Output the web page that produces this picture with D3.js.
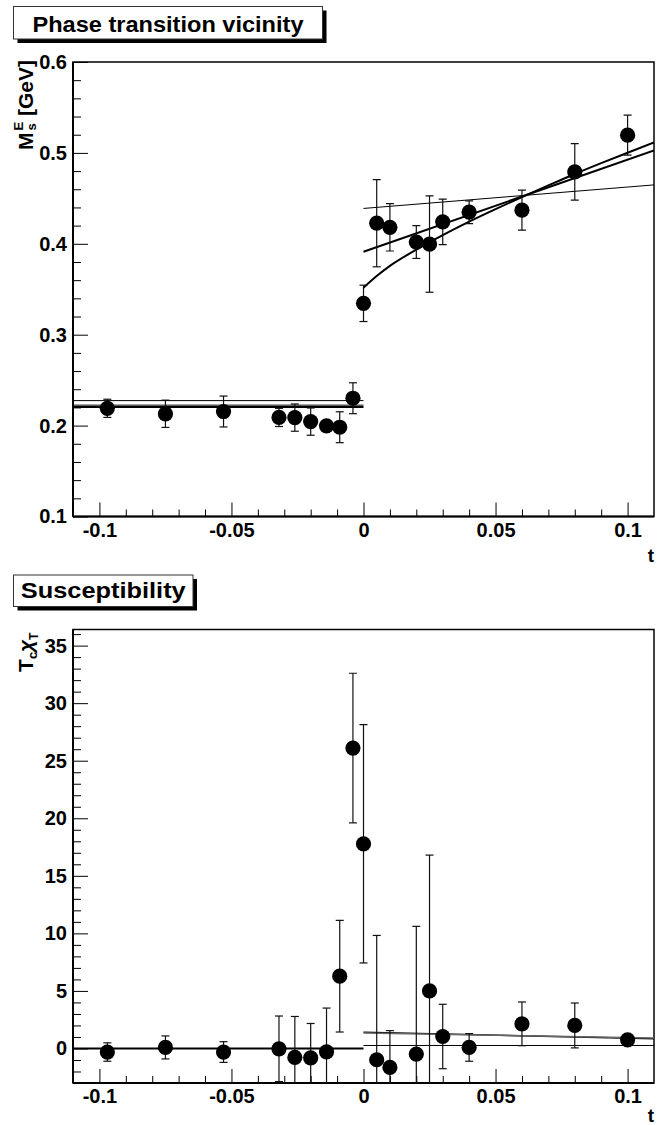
<!DOCTYPE html>
<html>
<head>
<meta charset="utf-8">
<script src="https://cdn.jsdelivr.net/npm/d3@7"></script>
<style>
  html, body { margin: 0; padding: 0; background: #fff; }
  svg { display: block; }
  text { font-family: "Liberation Sans", Arial, Helvetica, sans-serif; font-weight: bold; fill: #000; }
</style>
</head>
<body>
<script>
// ---------------- DATA ----------------
// Top panel: M_s^E [GeV] vs t
const tTop   = [-0.097, -0.075, -0.053, -0.032, -0.026, -0.020, -0.014, -0.009, -0.004,
                 0.000,  0.005,  0.010,  0.020,  0.025,  0.030,  0.040,  0.060,  0.080, 0.100];
const mTop   = [0.219, 0.213, 0.2155, 0.209, 0.2088, 0.2044, 0.1997, 0.1982, 0.2301,
                0.3345, 0.4227, 0.4181, 0.4019, 0.3997, 0.4242, 0.4348, 0.4370, 0.4791, 0.5195];
const eTop   = [0.010, 0.015, 0.017, 0.010, 0.015, 0.015, 0.005, 0.017, 0.017,
                0.020, 0.048, 0.026, 0.018, 0.053, 0.025, 0.0125, 0.022, 0.031, 0.022];

// Top panel fits
const topLowLevels = [0.2275, 0.2225, 0.2205];          // constant fits for t<0
const topLowRange  = [-0.11, 0.0];
const topLineA     = [[0.0, 0.4389], [0.11, 0.4648]];   // flat linear fit
const topLineB     = [[0.0, 0.3912], [0.11, 0.5026]];   // steeper linear fit
const topCurveT    = [0.0, 0.005, 0.01, 0.02, 0.03, 0.04, 0.05, 0.06, 0.07, 0.08, 0.09, 0.10, 0.11];
const topCurveM    = [0.3517, 0.3645, 0.3757, 0.3935, 0.4095, 0.4244, 0.4382, 0.4514, 0.4642, 0.4768, 0.4887, 0.5002, 0.5115];

// Bottom panel: Tc chi_T vs t
const tBot   = [-0.097, -0.075, -0.053, -0.032, -0.026, -0.020, -0.014, -0.009, -0.004,
                 0.000,  0.005,  0.010,  0.020,  0.025,  0.030,  0.040,  0.060,  0.080, 0.100];
const chiBot = [-0.31, 0.09, -0.31, -0.03, -0.78, -0.81, -0.29, 6.28, 26.1,
                17.78, -0.98, -1.65, -0.49, 5.0, 1.04, 0.09, 2.14, 2.0, 0.75];
const eBot   = [0.8, 1.0, 0.9, 2.85, 3.56, 2.98, 3.8, 4.85, 6.5,
                10.35, 10.8, 3.2, 11.1, 11.8, 2.8, 1.2, 1.9, 1.95, 0.3];

// Bottom panel fits
const botLowLevel  = 0.0;
const botLowRange  = [-0.11, 0.0];
const botHighLines = [
  [[0.0, 1.42], [0.11, 0.84]],
  [[0.0, 1.34], [0.11, 0.91]],
  [[0.0, 0.26], [0.11, 0.26]]
];

// Axes / ticks
const xDomain      = [-0.11, 0.11];
const xTickVals    = [-0.1, -0.05, 0, 0.05, 0.1];
const xTickLabels  = ["-0.1", "-0.05", "0", "0.05", "0.1"];
const topYDomain   = [0.1, 0.6];
const topYTickVals = [0.1, 0.2, 0.3, 0.4, 0.5, 0.6];
const topYTickLabels = ["0.1", "0.2", "0.3", "0.4", "0.5", "0.6"];
const botYDomain   = [-3, 36.4];
const botYTickVals = [0, 5, 10, 15, 20, 25, 30, 35];
const botYTickLabels = ["0", "5", "10", "15", "20", "25", "30", "35"];

const titleTop = "Phase transition vicinity";
const titleBot = "Susceptibility";

// ---------------- DRAW ----------------
const W = 664, H = 1125;
const svg = d3.select("body").append("svg").attr("width", W).attr("height", H);
svg.append("rect").attr("width", W).attr("height", H).attr("fill", "#fff");

const L = 73, R = 654;
const x = d3.scaleLinear().domain(xDomain).range([L, R]);

function titleBox(bx, by, bw, bh, text, baseline, tlen) {
  svg.append("rect").attr("x", bx + 4).attr("y", by + 4).attr("width", bw).attr("height", bh).attr("fill", "#000");
  svg.append("rect").attr("x", bx).attr("y", by).attr("width", bw).attr("height", bh)
    .attr("fill", "#fff").attr("stroke", "#333").attr("stroke-width", 1);
  svg.append("text").attr("x", bx + bw / 2).attr("y", baseline).attr("text-anchor", "middle")
    .attr("font-size", 22).attr("textLength", tlen).attr("lengthAdjust", "spacingAndGlyphs").text(text);
}

function panel(opts) {
  const { y0, y1, yDomain, yTicks, yLabels, yMinor, id, tOffset } = opts;
  const y = d3.scaleLinear().domain(yDomain).range([y1, y0]);
  const g = svg.append("g");

  svg.append("clipPath").attr("id", id).append("rect")
    .attr("x", L).attr("y", y0).attr("width", R - L).attr("height", y1 - y0);

  g.append("rect").attr("x", L).attr("y", y0).attr("width", R - L).attr("height", y1 - y0)
    .attr("fill", "none").attr("stroke", "#000").attr("stroke-width", 1.5);

  const yMaj = d3.axisLeft(y).tickValues(yTicks).tickFormat((d, i) => yLabels[i])
    .tickSizeInner(-15).tickSizeOuter(0).tickPadding(6);
  const ga = g.append("g").attr("transform", `translate(${L},0)`).call(yMaj);
  ga.select(".domain").remove();
  ga.selectAll("line").attr("stroke", "#000").attr("stroke-width", 1);
  ga.selectAll("text").attr("font-size", 20).attr("font-family", "Liberation Sans, Arial, sans-serif")
    .attr("font-weight", "bold").attr("fill", "#000");
  const yMin = d3.axisLeft(y).tickValues(yMinor).tickFormat("").tickSizeInner(-8).tickSizeOuter(0);
  const gm = g.append("g").attr("transform", `translate(${L},0)`).call(yMin);
  gm.select(".domain").remove();
  gm.selectAll("line").attr("stroke", "#000").attr("stroke-width", 1);

  const xMaj = d3.axisBottom(x).tickValues(xTickVals).tickFormat((d, i) => xTickLabels[i])
    .tickSizeInner(-14).tickSizeOuter(0).tickPadding(6);
  const gx = g.append("g").attr("transform", `translate(0,${y1})`).call(xMaj);
  gx.select(".domain").remove();
  gx.selectAll("line").attr("stroke", "#000").attr("stroke-width", 1);
  gx.selectAll("text").attr("font-size", 20).attr("font-family", "Liberation Sans, Arial, sans-serif")
    .attr("font-weight", "bold").attr("fill", "#000");
  const xMinorVals = d3.range(-10, 11).map(k => k / 100).filter(v => Math.abs(v * 20 - Math.round(v * 20)) > 1e-6);
  const xMin = d3.axisBottom(x).tickValues(xMinorVals).tickFormat("").tickSizeInner(-7).tickSizeOuter(0);
  const gxm = g.append("g").attr("transform", `translate(0,${y1})`).call(xMin);
  gxm.select(".domain").remove();
  gxm.selectAll("line").attr("stroke", "#000").attr("stroke-width", 1);

  g.append("line").attr("x1", L).attr("x2", L).attr("y1", y0).attr("y2", y1).attr("stroke", "#000").attr("stroke-width", 2);
  g.append("line").attr("x1", L).attr("x2", R).attr("y1", y1).attr("y2", y1).attr("stroke", "#000").attr("stroke-width", 2);

  g.append("text").attr("x", R).attr("y", y1 + tOffset).attr("text-anchor", "end").attr("font-size", 19).text("t");

  const plot = svg.append("g").attr("clip-path", `url(#${id})`);
  return { y, plot };
}

function drawPoints(plot, y, ts, vs, es) {
  const cap = 4;
  const eg = plot.append("g").attr("stroke", "#111").attr("stroke-width", 1.2);
  ts.forEach((t, i) => {
    const cx = x(t), yt = y(vs[i] + es[i]), yb = y(vs[i] - es[i]);
    eg.append("line").attr("x1", cx).attr("x2", cx).attr("y1", yt).attr("y2", yb);
    eg.append("line").attr("x1", cx - cap).attr("x2", cx + cap).attr("y1", yt).attr("y2", yt);
    eg.append("line").attr("x1", cx - cap).attr("x2", cx + cap).attr("y1", yb).attr("y2", yb);
  });
  plot.append("g").selectAll("circle").data(ts).join("circle")
    .attr("cx", d => x(d)).attr("cy", (d, i) => y(vs[i])).attr("r", 7.6).attr("fill", "#000");
}

// ---- Top panel ----
titleBox(13.5, 6.5, 309, 32.5, titleTop, 32, 271);
const pTop = panel({ y0: 62, y1: 516.5, yDomain: topYDomain, yTicks: topYTickVals, yLabels: topYTickLabels,
  yMinor: d3.range(10, 61, 2).map(v => v / 100).filter(v => Math.abs(v * 10 - Math.round(v * 10)) > 1e-6),
  id: "clipTop", tOffset: 45 });

const lineGen = d3.line().x(d => x(d[0])).y(d => pTop.y(d[1]));
const lowWidths = [1, 1, 2];
topLowLevels.forEach((lv, i) => {
  pTop.plot.append("path").attr("d", lineGen([[topLowRange[0], lv], [topLowRange[1], lv]]))
    .attr("fill", "none").attr("stroke", "#000").attr("stroke-width", lowWidths[i]);
});
pTop.plot.append("path").attr("d", lineGen(topLineA)).attr("fill", "none").attr("stroke", "#000").attr("stroke-width", 1);
pTop.plot.append("path").attr("d", lineGen(topLineB)).attr("fill", "none").attr("stroke", "#000").attr("stroke-width", 2);
pTop.plot.append("path").attr("d", d3.line().curve(d3.curveMonotoneX).x(d => x(d[0])).y(d => pTop.y(d[1]))(topCurveT.map((t, i) => [t, topCurveM[i]])))
  .attr("fill", "none").attr("stroke", "#000").attr("stroke-width", 2);
drawPoints(pTop.plot, pTop.y, tTop, mTop, eTop);

// top y label  M_s^E [GeV]
{
  const g = svg.append("g").attr("transform", "translate(33,150) rotate(-90)");
  g.append("text").attr("x", 0).attr("y", 0).attr("font-size", 21).text("M");
  g.append("text").attr("x", 19.5).attr("y", -10).attr("font-size", 13).text("E");
  g.append("text").attr("x", 19.5).attr("y", 3).attr("font-size", 13).text("s");
  g.append("text").attr("x", 34).attr("y", 0).attr("font-size", 21).text("[GeV]");
}

// ---- Bottom panel ----
titleBox(13.5, 575, 179.5, 31.5, titleBot, 598, 165);
const pBot = panel({ y0: 629.5, y1: 1083, yDomain: botYDomain, yTicks: botYTickVals, yLabels: botYTickLabels,
  yMinor: d3.range(-2, 37, 1).filter(v => v % 5 !== 0), id: "clipBot", tOffset: 39 });
const lineGenB = d3.line().x(d => x(d[0])).y(d => pBot.y(d[1]));
pBot.plot.append("path").attr("d", lineGenB([[botLowRange[0], botLowLevel], [botLowRange[1], botLowLevel]]))
  .attr("fill", "none").attr("stroke", "#000").attr("stroke-width", 2);
const highStyles = [{ c: "#000", w: 1.5 }, { c: "#666", w: 1.5 }, { c: "#000", w: 1 }];
botHighLines.forEach((ln, i) => {
  pBot.plot.append("path").attr("d", lineGenB(ln)).attr("fill", "none")
    .attr("stroke", highStyles[i].c).attr("stroke-width", highStyles[i].w);
});
drawPoints(pBot.plot, pBot.y, tBot, chiBot, eBot);

// bottom y label  T_c chi_T
{
  const g = svg.append("g").attr("transform", "translate(33,672) rotate(-90)");
  g.append("text").attr("x", 0).attr("y", 0).attr("font-size", 21).text("T");
  g.append("text").attr("x", 13).attr("y", 4).attr("font-size", 13).text("c");
  g.append("text").attr("x", 20).attr("y", 0).attr("font-size", 21)
    .attr("font-family", "DejaVu Serif, serif").attr("font-style", "italic").attr("font-weight", "normal").text("χ");
  g.append("text").attr("x", 32).attr("y", 5).attr("font-size", 12).text("T");
}
</script>
</body>
</html>
